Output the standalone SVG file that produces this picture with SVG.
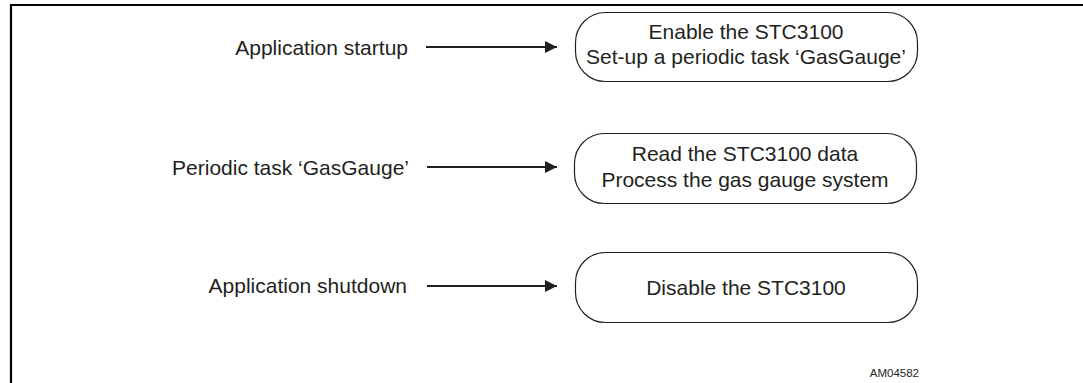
<svg xmlns="http://www.w3.org/2000/svg" width="1083" height="383" viewBox="0 0 1083 383">
<style>
text{font-family:"Liberation Sans",Arial,sans-serif;fill:#231f20}
.lbl{font-size:21px;text-anchor:end}
.nt{font-size:21px;text-anchor:middle}
.box{fill:none;stroke:#231f20;stroke-width:1.2}
.conn{stroke:#231f20;stroke-width:2;fill:none}
.frame{stroke:#000;stroke-width:2.2;fill:none}
</style>
<defs>
<marker id="ah" markerWidth="12" markerHeight="12" refX="12" refY="6" orient="auto" markerUnits="userSpaceOnUse">
<path d="M0,0 L12,6 L0,12 Z" fill="#231f20"/>
</marker>
</defs>
<rect width="1083" height="383" fill="#fff"/>
<path class="frame" d="M11,383 V5 H1083"/>
<g id="label-startup"><text class="lbl" x="408" y="55">Application startup</text></g>
<g id="label-periodic"><text class="lbl" x="409" y="175">Periodic task ‘GasGauge’</text></g>
<g id="label-shutdown"><text class="lbl" x="407" y="293">Application shutdown</text></g>
<g id="connectors">
<line class="conn" x1="426" y1="47" x2="557" y2="47" marker-end="url(#ah)"/>
<line class="conn" x1="427" y1="167" x2="557" y2="167" marker-end="url(#ah)"/>
<line class="conn" x1="427" y1="286" x2="557" y2="286" marker-end="url(#ah)"/>
</g>
<g id="node-enable">
<rect class="box" x="575.5" y="12.5" width="342" height="69" rx="30" ry="30"/>
<text class="nt" x="746" y="39">Enable the STC3100</text>
<text class="nt" x="746" y="64">Set-up a periodic task ‘GasGauge’</text>
</g>
<g id="node-read">
<rect class="box" x="574.5" y="133.5" width="342" height="70" rx="30" ry="30"/>
<text class="nt" x="745" y="161">Read the STC3100 data</text>
<text class="nt" x="745" y="187">Process the gas gauge system</text>
</g>
<g id="node-disable">
<rect class="box" x="575.5" y="252.5" width="342" height="70" rx="30" ry="30"/>
<text class="nt" x="746" y="295">Disable the STC3100</text>
</g>
<text x="919" y="377" font-size="11.5" text-anchor="end">AM04582</text>
</svg>
